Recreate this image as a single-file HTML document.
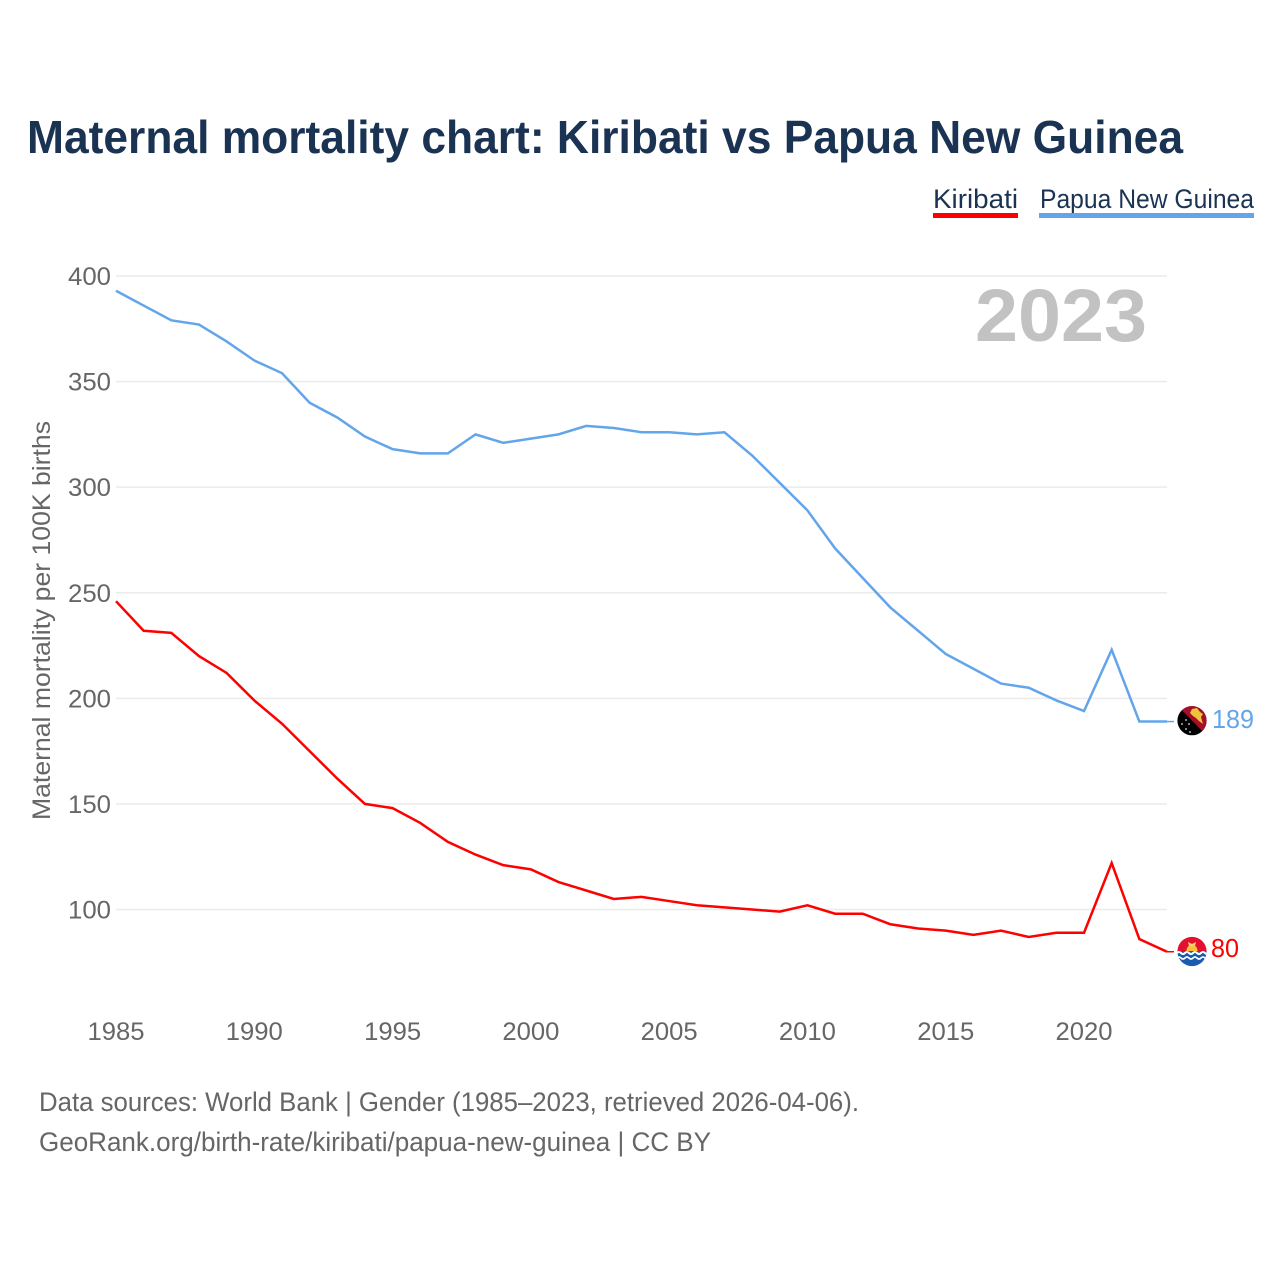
<!DOCTYPE html>
<html lang="en">
<head>
<meta charset="utf-8">
<title>Maternal mortality chart: Kiribati vs Papua New Guinea</title>
<style>
html,body{margin:0;padding:0;background:#fff;width:1280px;height:1280px;overflow:hidden}
svg{display:block}
text{font-family:"Liberation Sans",sans-serif}
</style>
</head>
<body>
<svg id="chart" xmlns="http://www.w3.org/2000/svg" width="1280" height="1280" viewBox="0 0 1280 1280">
  <defs>
    <clipPath id="flag-clip-png"><circle cx="1192" cy="720.7" r="14.6"/></clipPath>
    <clipPath id="flag-clip-kir"><circle cx="1192" cy="951.5" r="14.6"/></clipPath>
  </defs>
  <rect width="1280" height="1280" fill="#fff"/>
  <text x="27" y="153" font-size="46" font-weight="700" fill="#1a3353" textLength="1156" lengthAdjust="spacingAndGlyphs">Maternal mortality chart: Kiribati vs Papua New Guinea</text>

  <g>
    <text x="933" y="208" font-size="27" fill="#1a3353" textLength="85" lengthAdjust="spacingAndGlyphs">Kiribati</text>
    <rect x="933" y="213" width="85" height="5" fill="#ff0000"/>
    <text x="1040" y="208" font-size="27" fill="#1a3353" textLength="214" lengthAdjust="spacingAndGlyphs">Papua New Guinea</text>
    <rect x="1039" y="213" width="215" height="5" fill="#62a5eb"/>
  </g>

  <g id="grid"></g>
  <g id="y-ticks"></g>
  <g id="x-ticks"></g>

  <text transform="translate(50 820) rotate(-90)" x="0" y="0" font-size="25" fill="#666" textLength="399" lengthAdjust="spacingAndGlyphs">Maternal mortality per 100K births</text>

  <text x="975" y="341" font-size="74" font-weight="700" fill="#c2c2c2" textLength="172" lengthAdjust="spacingAndGlyphs">2023</text>

  <g id="series"></g>

  <g clip-path="url(#flag-clip-png)">
    <rect x="1177" y="705" width="30" height="31" fill="#000"/>
    <polygon points="1177,705 1207,705 1207,736" fill="#a50f2a"/>
    <polygon points="1192,709 1197,708 1200,712 1203,714 1201,717 1203,724 1199,721 1196,718 1193,716 1190,713" fill="#f0c33c"/>
    <circle cx="1186" cy="720" r="0.9" fill="#dfe6ee"/>
    <circle cx="1182" cy="724" r="0.9" fill="#dfe6ee"/>
    <circle cx="1189" cy="724" r="0.9" fill="#dfe6ee"/>
    <circle cx="1186" cy="729" r="0.9" fill="#dfe6ee"/>
    <circle cx="1190" cy="732" r="0.9" fill="#dfe6ee"/>
  </g>
  <text id="label-png" x="1212" y="728" font-size="26" fill="#62a5eb" textLength="42" lengthAdjust="spacingAndGlyphs"></text>

  <g clip-path="url(#flag-clip-kir)">
    <rect x="1177" y="936" width="30" height="17" fill="#e3102f"/>
    <circle cx="1192" cy="950.5" r="5.5" fill="#fcc13a"/>
    <polygon points="1188,942 1192,944 1196,942 1195,946 1189,946" fill="#f6d27a"/>
    <rect x="1177" y="951" width="30" height="16" fill="#1a5cad"/>
    <path d="M1177 953 q2 -2 4 0 t4 0 t4 0 t4 0 t4 0 t4 0 t4 0 t4 0" fill="none" stroke="#fff" stroke-width="2"/>
    <path d="M1177 958 q2 -2 4 0 t4 0 t4 0 t4 0 t4 0 t4 0 t4 0 t4 0" fill="none" stroke="#fff" stroke-width="1.6"/>
  </g>
  <text id="label-kir" x="1211" y="957" font-size="26" fill="#ff0000" textLength="28" lengthAdjust="spacingAndGlyphs"></text>

  <text x="39" y="1111" font-size="27" fill="#666" textLength="820" lengthAdjust="spacingAndGlyphs">Data sources: World Bank | Gender (1985–2023, retrieved 2026-04-06).</text>
  <text x="39" y="1151" font-size="27" fill="#666" textLength="672" lengthAdjust="spacingAndGlyphs">GeoRank.org/birth-rate/kiribati/papua-new-guinea | CC BY</text>
</svg>
<script>
const years = [1985,1986,1987,1988,1989,1990,1991,1992,1993,1994,1995,1996,1997,1998,1999,2000,2001,2002,2003,2004,2005,2006,2007,2008,2009,2010,2011,2012,2013,2014,2015,2016,2017,2018,2019,2020,2021,2022,2023];
const kiribati = [246,232,231,220,212,199,188,175,162,150,148,141,132,126,121,119,113,109,105,106,104,102,101,100,99,102,98,98,93,91,90,88,90,87,89,89,122,86,80];
const papuaNewGuinea = [393,386,379,377,369,360,354,340,333,324,318,316,316,325,321,323,325,329,328,326,326,325,326,315,302,289,271,257,243,232,221,214,207,205,199,194,223,189,189];
const yTickValues = [100,150,200,250,300,350,400];
const xTickValues = [1985,1990,1995,2000,2005,2010,2015,2020];

const NS = 'http://www.w3.org/2000/svg';
const xScale = function (year) { return 116 + (year - 1985) * (1167 - 116) / (2023 - 1985); };
const yScale = function (value) { return 909.5 + (value - 100) * (276 - 909.5) / 300; };
const make = function (tag, parent) {
  const el = document.createElementNS(NS, tag);
  parent.appendChild(el);
  return el;
};

const grid = document.getElementById('grid');
const yTicks = document.getElementById('y-ticks');
const xTicks = document.getElementById('x-ticks');
const seriesGroup = document.getElementById('series');

yTickValues.forEach(function (v) {
  const line = make('line', grid);
  
  
  line.setAttribute('x1', 116);
  line.setAttribute('x2', 1167);
  line.setAttribute('y1', yScale(v));
  line.setAttribute('y2', yScale(v));
  line.setAttribute('stroke', '#ebebeb');
  line.setAttribute('stroke-width', 1.5);

  const label = make('text', yTicks);
  
  
  label.setAttribute('x', 111);
  label.setAttribute('y', yScale(v) + 9);
  label.setAttribute('text-anchor', 'end');
  label.setAttribute('font-size', 25);
  label.setAttribute('fill', '#666');
  label.setAttribute('textLength', v >= 100 ? 43 : 29);
  label.setAttribute('lengthAdjust', 'spacingAndGlyphs');
  label.textContent = String(v);
});

xTickValues.forEach(function (y) {
  const label = make('text', xTicks);
  
  
  label.setAttribute('x', xScale(y));
  label.setAttribute('y', 1040);
  label.setAttribute('text-anchor', 'middle');
  label.setAttribute('font-size', 25);
  label.setAttribute('fill', '#666');
  label.setAttribute('textLength', 57);
  label.setAttribute('lengthAdjust', 'spacingAndGlyphs');
  label.textContent = String(y);
});

const buildPath = function (values) {
  return values.map(function (v, i) {
    return (i ? 'L' : 'M') + xScale(years[i]).toFixed(2) + ' ' + yScale(v).toFixed(2);
  }).join(' ');
};

const pngLine = make('path', seriesGroup);


pngLine.setAttribute('d', buildPath(papuaNewGuinea));
pngLine.setAttribute('fill', 'none');
pngLine.setAttribute('stroke', '#62a5eb');
pngLine.setAttribute('stroke-width', 2.5);

const kirLine = make('path', seriesGroup);


kirLine.setAttribute('d', buildPath(kiribati));
kirLine.setAttribute('fill', 'none');
kirLine.setAttribute('stroke', '#ff0000');
kirLine.setAttribute('stroke-width', 2.5);

const pngEnd = papuaNewGuinea[papuaNewGuinea.length - 1];
const kirEnd = kiribati[kiribati.length - 1];

const pngLink = make('line', seriesGroup);


pngLink.setAttribute('x1', 1167);
pngLink.setAttribute('x2', 1174);
pngLink.setAttribute('y1', yScale(pngEnd));
pngLink.setAttribute('y2', yScale(pngEnd));
pngLink.setAttribute('stroke', '#62a5eb');
pngLink.setAttribute('stroke-width', 1.5);

const kirLink = make('line', seriesGroup);


kirLink.setAttribute('x1', 1167);
kirLink.setAttribute('x2', 1174);
kirLink.setAttribute('y1', yScale(kirEnd));
kirLink.setAttribute('y2', yScale(kirEnd));
kirLink.setAttribute('stroke', '#ff0000');
kirLink.setAttribute('stroke-width', 1.5);

document.getElementById('label-png').textContent = String(pngEnd);
document.getElementById('label-kir').textContent = String(kirEnd);
</script>
</body>
</html>
